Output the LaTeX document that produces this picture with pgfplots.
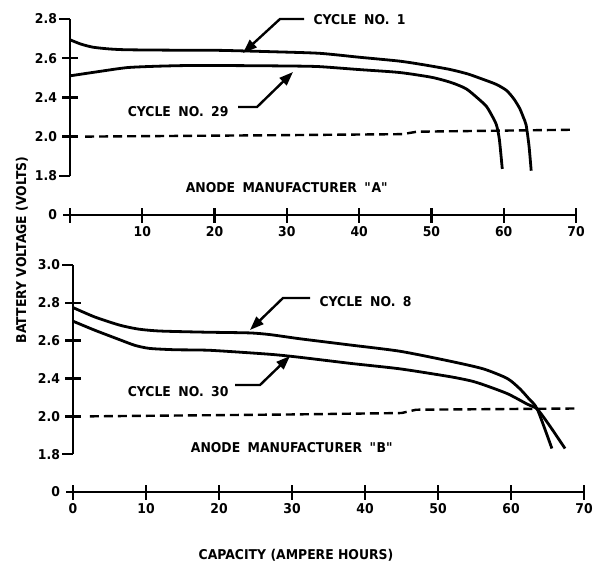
\documentclass[border=0pt]{standalone}
\usepackage{fontspec}
\setmainfont{DejaVu Sans}[FakeStretch=0.92]
\usepackage{pgfplots}
\pgfplotsset{compat=1.18}
\usetikzlibrary{arrows.meta}

\newcommand{\gap}{\hspace{0.55em}}
\tikzset{ax/.style={line width=2.4pt, black}}
\pgfplotsset{
  battery/.style={
    scale only axis, clip=false,
    xmin=0, xmax=70, ymin=0,
    axis x line*=bottom, axis y line*=left,
    y axis line style={draw=none},
    x axis line style={line width=2.4pt},
    tick align=center,
    major tick length=15pt,
    xtick style={line width=2.2pt, black},
    ytick style={draw=none},
    xtick={0,10,...,70},
    y coord trafo/.code={\pgfmathparse{##1<1.8 ? ##1/1.8 : (##1<2.0 ? 1+(##1-1.8)/0.2 : (##1<2.4 ? 2+(##1-2.0)/0.4 : 3+(##1-2.4)/0.2))}},
    yticklabel style={anchor=east, xshift=-2pt, font=\fontsize{13.5}{15}\selectfont\bfseries},
    xticklabel style={anchor=north, font=\fontsize{13.5}{15}\selectfont\bfseries},
  },
  curve/.style={black, line width=2.8pt, smooth, tension=0.4},
  dash/.style={black, line width=2.4pt, dash pattern=on 9pt off 5pt},
}

\begin{document}
\begin{tikzpicture}[font=\fontsize{13.5}{15}\selectfont\bfseries]
\useasboundingbox (0pt,0pt) rectangle (593pt,563pt);

% ---------------- top panel: anode manufacturer A
\begin{axis}[battery, at={(70pt,348pt)}, anchor=south west, width=506pt, height=196pt,
  ymax=2.8, ytick={0,1.8,2.0,2.4,2.6,2.8}, yticklabels={0,1.8,2.0,2.4,2.6,2.8},
  xticklabels={,10,20,30,40,50,60,70}]
% cycle no. 1
\addplot[curve] coordinates {(0,2.694)(1.5,2.672)(3.2,2.656)(5.5,2.647)(7.9,2.643)(14,2.641)(20.7,2.640)(28,2.633)(34.5,2.625)(40,2.605)(45.6,2.585)(49,2.566)(52.5,2.543)(55,2.52)(57.0,2.494)(59,2.466)(60.4,2.435)(61.4,2.385)(62.2,2.289)(62.7,2.20)(63.1,2.118)(63.5,1.952)(63.8,1.826)};
% cycle no. 29
\addplot[curve] coordinates {(0,2.51)(4,2.532)(7.9,2.552)(12,2.559)(17,2.563)(24,2.562)(30.8,2.56)(34.5,2.557)(40,2.542)(45.6,2.527)(50.1,2.502)(52.8,2.475)(54.8,2.444)(56.4,2.392)(57.6,2.309)(58.4,2.21)(59.0,2.118)(59.4,1.985)(59.8,1.835)};
% 2.0 V cut-off
\addplot[dash] coordinates {(2.1,2.0)(30,2.015)(46,2.025)(48,2.05)(69.5,2.07)};
% broken voltage axis and its ticks
\draw[ax] (rel axis cs:0,0.2) -- (rel axis cs:0,1);
\draw[ax] (rel axis cs:0,1) -- ++(-11pt,0);
\draw[ax] (rel axis cs:0,0.2) -- ++(-11pt,0);
\draw[ax] (rel axis cs:0,0) -- ++(-7pt,0);
\draw[ax] (rel axis cs:0,0.4) ++(-8pt,0) -- ++(16pt,0);
\draw[ax] (rel axis cs:0,0.6) ++(-8pt,0) -- ++(16pt,0);
\draw[ax] (rel axis cs:0,0.8) ++(-8pt,0) -- ++(16pt,0);
\end{axis}

% ---------------- bottom panel: anode manufacturer B
\begin{axis}[battery, at={(73pt,71pt)}, anchor=south west, width=511pt, height=227pt,
  ymax=3.0, ytick={0,1.8,2.0,2.4,2.6,2.8,3.0}, yticklabels={0,1.8,2.0,2.4,2.6,2.8,3.0},
  xticklabels={0,10,20,30,40,50,60,70}]
% cycle no. 8
\addplot[curve] coordinates {(0,2.775)(3,2.725)(6.4,2.682)(9,2.661)(11.9,2.651)(18,2.645)(24.2,2.641)(27,2.632)(31.1,2.61)(38,2.577)(44.8,2.544)(51.6,2.492)(56.2,2.451)(59.5,2.40)(61.2,2.292)(62.4,2.19)(63.6,2.076)(65.6,1.83)};
% cycle no. 30
\addplot[curve] coordinates {(0,2.703)(3,2.655)(6.4,2.605)(8.5,2.575)(10.5,2.559)(14,2.552)(18.8,2.549)(27,2.528)(31.1,2.512)(38,2.48)(44.8,2.451)(51.6,2.41)(54.5,2.375)(56.2,2.335)(59.5,2.24)(62.2,2.13)(63.6,2.076)(65.3,1.95)(67.4,1.83)};
\addplot[dash] coordinates {(2.3,2.0)(30,2.02)(45,2.035)(47,2.07)(69,2.083)};
% broken voltage axis and its ticks
\draw[ax] (rel axis cs:0,0.16667) -- (rel axis cs:0,1);
\draw[ax] (rel axis cs:0,1) -- ++(-11pt,0);
\draw[ax] (rel axis cs:0,0.16667) -- ++(-11pt,0);
\draw[ax] (rel axis cs:0,0) -- ++(-7pt,0);
\draw[ax] (rel axis cs:0,0.33333) ++(-8pt,0) -- ++(16pt,0);
\draw[ax] (rel axis cs:0,0.5) ++(-8pt,0) -- ++(16pt,0);
\draw[ax] (rel axis cs:0,0.66667) ++(-8pt,0) -- ++(16pt,0);
\draw[ax] (rel axis cs:0,0.83333) ++(-8pt,0) -- ++(16pt,0);
\end{axis}

% ---------------- annotations
\begin{scope}[x=1pt,y=1pt]
\node[anchor=west] at (310,543) {CYCLE\gap NO.\gap 1};
\draw[line width=2.4pt, -{Triangle[length=14pt,width=10pt]}] (304,544) -- (280,544) -- (243,510);
\node[anchor=east] at (232,451) {CYCLE\gap NO.\gap 29};
\draw[line width=2.4pt, -{Triangle[length=14pt,width=10pt]}] (238,456) -- (257,456) -- (293,491);
\node at (287,375) {ANODE\gap MANUFACTURER\gap \textquotedbl A\textquotedbl};

\node[anchor=west] at (316,261) {CYCLE\gap NO.\gap 8};
\draw[line width=2.4pt, -{Triangle[length=14pt,width=10pt]}] (310,265) -- (283,265) -- (250,233);
\node[anchor=east] at (232,171) {CYCLE\gap NO.\gap 30};
\draw[line width=2.4pt, -{Triangle[length=14pt,width=10pt]}] (235,178) -- (260,178) -- (290,207);
\node at (292,115) {ANODE\gap MANUFACTURER\gap \textquotedbl B\textquotedbl};

\node[rotate=90] at (22,313) {BATTERY VOLTAGE (VOLTS)};
\node at (296,8) {CAPACITY (AMPERE HOURS)};
\end{scope}
\end{tikzpicture}
\end{document}
